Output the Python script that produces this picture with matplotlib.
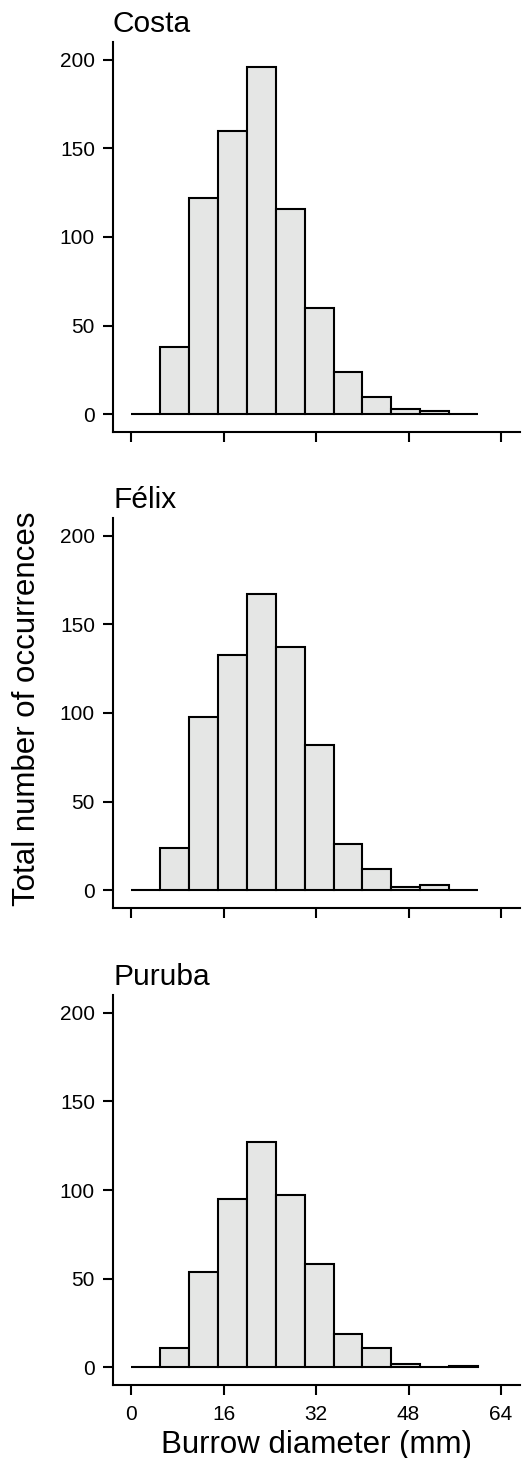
import numpy as np
import matplotlib
matplotlib.use('Agg')
import matplotlib.pyplot as plt

plt.rcParams['font.family'] = ['Liberation Sans', 'DejaVu Sans']

############################################################
# Histogram data (counts per 5 mm bin, 0-60 mm)
bin_edges = np.arange(0, 65, 5)
sites = ['Costa', 'Félix', 'Puruba']
costa_counts = [0, 38, 122, 160, 196, 116, 60, 24, 10, 3, 2, 0]
felix_counts = [0, 24, 98, 133, 167, 137, 82, 26, 12, 2, 3, 0]
puruba_counts = [0, 11, 54, 95, 127, 97, 58, 19, 11, 2, 0, 1]
all_counts = [costa_counts, felix_counts, puruba_counts]

x_ticks = [0, 16, 32, 48, 64]
y_ticks = [0, 50, 100, 150, 200]

############################################################
# Figure layout (fractions of the figure)
W, H = 526, 1458
fig = plt.figure(figsize=(W/100., H/100.), dpi=100)

left = 113./W
width = 407./W
tops = [42., 518., 995.]
ax_h = 390.

bar_color = '#e5e6e5'

for i, (name, counts) in enumerate(zip(sites, all_counts)):
    bottom = 1. - (tops[i] + ax_h)/H
    ax = fig.add_axes([left, bottom, width, ax_h/H])
    ax.bar(bin_edges[:-1], counts, width=np.diff(bin_edges), align='edge',
           color=bar_color, edgecolor='black', linewidth=1.5)
    ax.set_xlim(-3.2, 67.3)
    ax.set_ylim(-10, 210)
    ax.set_xticks(x_ticks)
    ax.set_yticks(y_ticks)
    for s in ['top', 'right']:
        ax.spines[s].set_visible(False)
    for s in ['left', 'bottom']:
        ax.spines[s].set_linewidth(1.5)
    ax.tick_params(axis='both', direction='out', length=7.5, width=1.5,
                   labelsize=15)
    ax.tick_params(axis='x', pad=6.8)
    ax.tick_params(axis='y', pad=5.5)
    if i < 2:
        ax.tick_params(axis='x', labelbottom=False)
    else:
        ax.set_xlabel('Burrow diameter (mm)', fontsize=22.5, labelpad=4.3)
    ax.set_title(name, loc='left', fontsize=21.5, pad=7)

fig.text(27./W, 1. - 709./H, 'Total number of occurrences', rotation=90,
         ha='center', va='center', fontsize=22.5)

fig.savefig('out.png', dpi=100)
